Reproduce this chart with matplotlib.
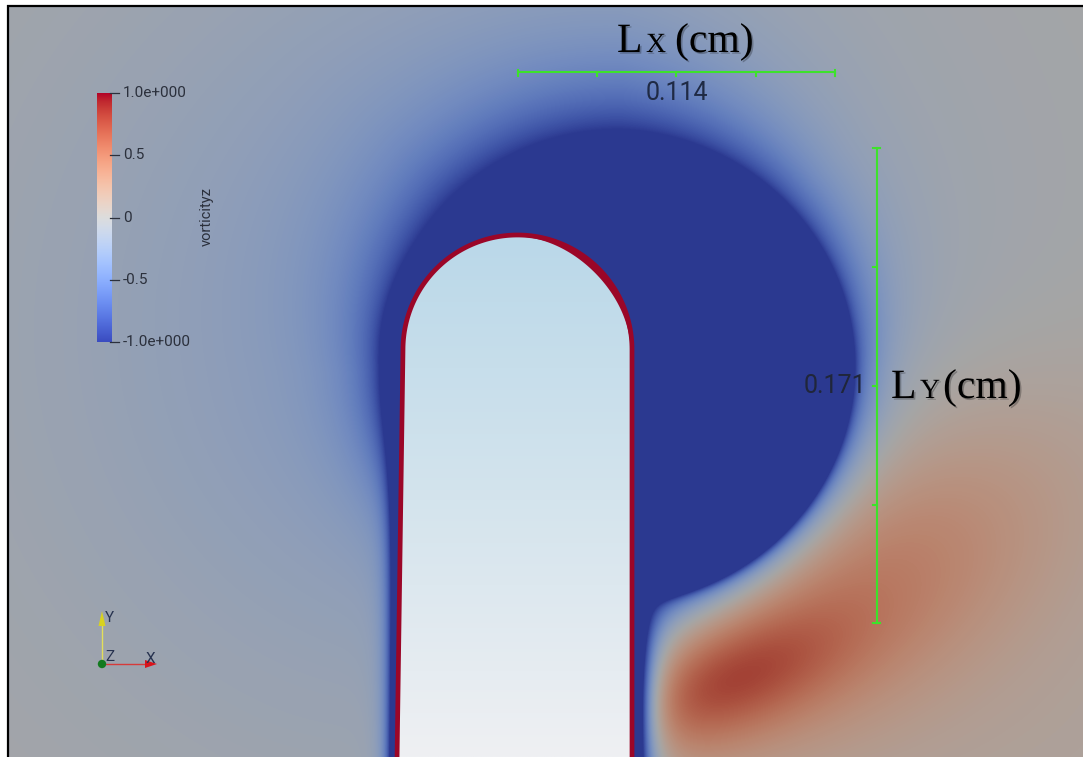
import numpy as np
import matplotlib
matplotlib.use("Agg")
import matplotlib.pyplot as plt
from matplotlib.path import Path
from matplotlib.patches import PathPatch, Polygon, Circle
from matplotlib import patheffects as pe

# ---------------------------------------------------------------- view setup
W, H = 1083, 757
VIEW_LEFT, VIEW_TOP = 9, 7
SHADE = 0.75                      # lighting factor of the rendered surface

# ---------------------------------------------------------------- vorticity field
VORTEX_CENTER = [622.0, 372.0]
VORTEX_RADIUS = 226.0
HALO_ANGLES = [-180, -135, -90, -45, 0, 45, 90, 135, 180]
HALO_LENGTHS = [33, 28, 28, 26, 26, 40, 65, 56, 33]

BROAD_CENTER = [460.0, 330.0]
BROAD_SIGMA = 300.0
BROAD_LEVEL = -0.30

BLOB_CENTERS = [[715, 686], [830, 600], [990, 720]]
BLOB_SIGMAS = [[90, 40], [180, 90], [260, 200]]
BLOB_ANGLES = [22, 32, 0]
BLOB_LEVELS = [0.48, 0.48, 0.10]

WALL_LEVELS = [-2.6, -2.5]        # left wall, right wall
WALL_WIDTHS = [7.0, 14.0]

# ---------------------------------------------------------------- body (rounded finger)
BODY_LEFT = [403.0, 397.0]        # x of left wall at cap base and at bottom
BODY_RIGHT = [632.0, 632.0]
CAP_BASE_Y = 349.5

# ---------------------------------------------------------------- colour bar
CBAR_TICKS = [1.0, 0.5, 0.0, -0.5, -1.0]
CBAR_LABELS = ["1.0e+000", "0.5", "0", "-0.5", "-1.0e+000"]
CBAR_TITLE = "vorticityz"

# ---------------------------------------------------------------- rulers
RENDER_SCALE = 2780.0             # pixels per cm
LX_VALUE = 0.114
LY_VALUE = 0.171
LX_START = [518.0, 72.0]
LY_START = [877.0, 148.0]

cap_cx = 0.5 * (BODY_LEFT[0] + BODY_RIGHT[0])
cap_r = 0.5 * (BODY_RIGHT[0] - BODY_LEFT[0])

# grid in pixel coordinates
xs = np.arange(VIEW_LEFT, W) + 0.5
ys = np.arange(VIEW_TOP, H) + 0.5
X, Y = np.meshgrid(xs, ys)

# signed distance to the body outline (positive outside)
frac = np.clip((Y - CAP_BASE_Y) / (H - CAP_BASE_Y), 0, 1)
xl = BODY_LEFT[0] + (BODY_LEFT[1] - BODY_LEFT[0]) * frac
xr = BODY_RIGHT[0] + (BODY_RIGHT[1] - BODY_RIGHT[0]) * frac
dist_side = np.maximum(xl - X, X - xr)
dist_cap = np.hypot(X - cap_cx, Y - CAP_BASE_Y) - cap_r
dist = np.where(Y >= CAP_BASE_Y, dist_side, dist_cap)
dpos = np.clip(dist, 0, None)

# main vortex core with direction-dependent halo
dx, dy = X - VORTEX_CENTER[0], Y - VORTEX_CENTER[1]
r = np.hypot(dx, dy)
phi = np.degrees(np.arctan2(-dy, dx))
L = np.interp(phi, HALO_ANGLES, HALO_LENGTHS)
d = r - VORTEX_RADIUS
core = -np.exp(-np.clip(d, 0, None) / L) - 1.2 / (1 + np.exp(np.clip(d / 4, -50, 50)))

broad = BROAD_LEVEL * np.exp(-((X - BROAD_CENTER[0]) ** 2 + (Y - BROAD_CENTER[1]) ** 2)
                             / (2 * BROAD_SIGMA ** 2))

blobs = np.zeros_like(X)
for (cx, cy), (su, sv), ang, lev in zip(BLOB_CENTERS, BLOB_SIGMAS, BLOB_ANGLES, BLOB_LEVELS):
    a = np.radians(ang)
    u = (X - cx) * np.cos(a) - (Y - cy) * np.sin(a)
    v = (X - cx) * np.sin(a) + (Y - cy) * np.cos(a)
    blobs += lev * np.exp(-(u ** 2 / (2 * su ** 2) + v ** 2 / (2 * sv ** 2)))
blobs *= 1 - np.exp(-dpos / 15.0)

left_side = X < cap_cx
wall = np.where(left_side,
                WALL_LEVELS[0] * np.exp(-dpos / WALL_WIDTHS[0]),
                WALL_LEVELS[1] * np.exp(-dpos / WALL_WIDTHS[1])
                / (1 + np.exp(-(Y - 590) / 12)))

field = np.clip(core + broad + blobs + wall, -1, 1)

cmap = plt.get_cmap("coolwarm")
rgb = cmap((field + 1) / 2)[..., :3] * SHADE

# ---------------------------------------------------------------- figure
fig = plt.figure(figsize=(W / 100, H / 100), dpi=100)
fig.patch.set_facecolor("white")
ax = fig.add_axes([0, 0, 1, 1])
ax.set_xlim(0, W)
ax.set_ylim(H, 0)
ax.axis("off")

ax.imshow(rgb, extent=(VIEW_LEFT, W, H, VIEW_TOP), interpolation="bilinear", zorder=1)

# body outline path
theta = np.linspace(0, np.pi, 120)
cap_x = cap_cx + cap_r * np.cos(theta)
cap_y = CAP_BASE_Y - cap_r * np.sin(theta)
verts = ([(BODY_RIGHT[1], H + 5), (BODY_RIGHT[0], CAP_BASE_Y)]
         + list(zip(cap_x, cap_y))
         + [(BODY_LEFT[0], CAP_BASE_Y), (BODY_LEFT[1], H + 5)])
body_path = Path(verts)
body = PathPatch(body_path, facecolor="none", edgecolor="none", zorder=2)
ax.add_patch(body)

# interior gradient
stops_y = [235, 500, 757]
stops_c = np.array([[186, 216, 233], [212, 228, 237], [239, 240, 243]]) / 255
gy = np.linspace(230, H, 300)
grad = np.stack([np.interp(gy, stops_y, stops_c[:, k]) for k in range(3)], axis=-1)[:, None, :]
im = ax.imshow(grad, extent=(380, 650, H, 230), aspect="auto", zorder=2,
               interpolation="bilinear")
im.set_clip_path(body)

# red wall band, thickening over the upper right of the cap
wall_red = "#9b0628"
ax.add_patch(PathPatch(body_path, facecolor="none", edgecolor=wall_red,
                       linewidth=3.4, zorder=3, capstyle="butt"))
th2 = np.linspace(0.0, np.pi / 2, 80)
extra = 4.0 * np.sin(2 * th2) ** 1.5
r_out = cap_r - 1.5
r_in = r_out - extra
crescent = np.concatenate([
    np.column_stack([cap_cx + r_out * np.cos(th2), CAP_BASE_Y - r_out * np.sin(th2)]),
    np.column_stack([cap_cx + r_in[::-1] * np.cos(th2[::-1]),
                     CAP_BASE_Y - r_in[::-1] * np.sin(th2[::-1])]),
])
ax.add_patch(Polygon(crescent, closed=True, facecolor=wall_red, edgecolor="none", zorder=3))

# frame lines
ax.plot([8, 8], [5, H], color="black", lw=1.6, zorder=6, solid_capstyle="butt")
ax.plot([7.2, W], [5.5, 5.5], color="black", lw=1.6, zorder=6, solid_capstyle="butt")

# ---------------------------------------------------------------- colour bar
cb_left, cb_right, cb_top, cb_bot = 97, 112, 93, 342
cgrad = cmap(np.linspace(1, 0, 256))[:, None, :3]
ax.imshow(cgrad, extent=(cb_left, cb_right, cb_bot, cb_top), aspect="auto", zorder=4)
label_color = "#2b303c"
for val, lab in zip(CBAR_TICKS, CBAR_LABELS):
    ty = cb_top + (1 - val) / 2 * (cb_bot - cb_top)
    ax.plot([cb_right - 2, cb_right + 7], [ty, ty], color=label_color, lw=0.9, zorder=5)
    ax.text(cb_right + 11, ty, lab, ha="left", va="center", fontsize=11,
            family="Roboto", color=label_color, zorder=5)
ax.text(207, 217, CBAR_TITLE, rotation=90, ha="center", va="center", fontsize=10.5,
        family="Roboto", color=label_color, zorder=5)

# ---------------------------------------------------------------- orientation triad
ox, oy = 102, 664
ax.plot([ox, ox], [oy, 622], color="#e3df5a", lw=1.0, zorder=5)
ax.add_patch(Polygon([(ox - 3.5, 626), (ox + 3.5, 626), (ox, 611)], closed=True,
                     facecolor="#d9d21f", edgecolor="none", zorder=5))
ax.plot([ox, 148], [oy, oy], color="#d63a3a", lw=1.0, zorder=5)
ax.add_patch(Polygon([(145, oy - 4), (145, oy + 4), (157, oy)], closed=True,
                     facecolor="#d8141c", edgecolor="none", zorder=5))
ax.add_patch(Circle((ox, oy), 4.2, facecolor="#137a1f", edgecolor="none", zorder=6))
triad_color = "#27324f"
ax.text(105, 618, "Y", fontsize=11, family="Roboto", color=triad_color, ha="left",
        va="center", zorder=6)
ax.text(105, 657, "Z", fontsize=11, family="Roboto", color=triad_color, ha="left",
        va="center", zorder=6)
ax.text(146, 659, "X", fontsize=11, family="Roboto", color=triad_color, ha="left",
        va="center", zorder=6)

# ---------------------------------------------------------------- rulers
green = "#3de22b"
lx_len = LX_VALUE * RENDER_SCALE
ly_len = LY_VALUE * RENDER_SCALE
x0, y0 = LX_START
ax.plot([x0, x0 + lx_len], [y0, y0], color=green, lw=1.5, zorder=5)
for f in [0, 0.25, 0.5, 0.75, 1.0]:
    tx = x0 + f * lx_len
    top = y0 - 2.5 if f in (0, 1.0) else y0
    ax.plot([tx, tx], [top, y0 + 3.5], color=green, lw=1.5, zorder=5)
ax.text(x0 + lx_len / 2, 100, f"{LX_VALUE:.3f}", ha="center", va="baseline",
        fontsize=18, family="Roboto", color="#1f2a44", zorder=5)

x1, y1 = LY_START
ax.plot([x1, x1], [y1, y1 + ly_len], color=green, lw=1.5, zorder=5)
for f in [0, 0.25, 0.5, 0.75, 1.0]:
    ty = y1 + f * ly_len
    right = x1 + 2.5 if f in (0, 1.0) else x1
    ax.plot([x1 - 4, right], [ty, ty], color=green, lw=1.5, zorder=5)
ax.text(x1 - 11, y1 + ly_len / 2, f"{LY_VALUE:.3f}", ha="right", va="center",
        fontsize=18, family="Roboto", color="#20263a", zorder=5)

# axis titles in serif with a soft shadow
shadow = [pe.withSimplePatchShadow(offset=(1.2, -1.2), shadow_rgbFace="black", alpha=0.25)]
serif = "Liberation Serif"
for (lx, base, sub) in [((617, 646, 675), 52, "X"), ((891, 920, 943), 398, "Y")]:
    ax.text(lx[0], base, "L", fontsize=30, family=serif, color="black", ha="left",
            va="baseline", zorder=7, path_effects=shadow)
    ax.text(lx[1], base, sub, fontsize=20, family=serif, color="black", ha="left",
            va="baseline", zorder=7, path_effects=shadow)
    ax.text(lx[2], base, "(cm)", fontsize=30, family=serif, color="black", ha="left",
            va="baseline", zorder=7, path_effects=shadow)

fig.savefig("out.png", dpi=100, facecolor="white")
